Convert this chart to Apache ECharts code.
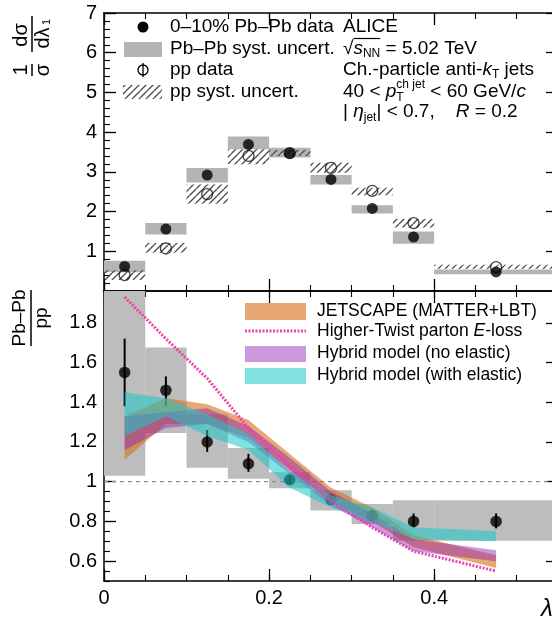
<!DOCTYPE html>
<html><head><meta charset="utf-8">
<script src="https://cdn.jsdelivr.net/npm/echarts@6.0.0/dist/echarts.min.js"></script>
<style>html,body{margin:0;padding:0;background:#fff;}#chart{width:552px;height:623px;}</style>
</head><body><div id="chart"></div>
<script>
// ---------------- data ----------------
const binLo     = [0.00, 0.05, 0.10, 0.15, 0.20, 0.25, 0.30, 0.35, 0.40];
const binHi     = [0.05, 0.10, 0.15, 0.20, 0.25, 0.30, 0.35, 0.40, 0.55];
const binCenter = [0.025, 0.075, 0.125, 0.175, 0.225, 0.275, 0.325, 0.375, 0.475];

// top panel: 1/sigma dsigma/dlambda
const pbpbVal    = [0.62, 1.56, 2.92, 3.69, 3.47, 2.81, 2.08, 1.36, 0.48];
const pbpbSystLo = [0.47, 1.42, 2.73, 3.57, 3.36, 2.68, 1.95, 1.19, 0.42];
const pbpbSystHi = [0.76, 1.71, 3.10, 3.89, 3.61, 2.92, 2.16, 1.50, 0.54];
const ppVal      = [0.40, 1.07, 2.44, 3.40, 3.47, 3.10, 2.52, 1.71, 0.60];
const ppSystLo   = [0.28, 0.96, 2.20, 3.19, 3.40, 2.98, 2.41, 1.60, 0.56];
const ppSystHi   = [0.52, 1.21, 2.68, 3.57, 3.55, 3.23, 2.60, 1.81, 0.66];

// bottom panel: Pb-Pb / pp
const ratioVal    = [1.55, 1.46, 1.20, 1.09, 1.01, 0.91, 0.83, 0.80, 0.80];
const ratioStatLo = [1.38, 1.38, 1.15, 1.05, 0.99, 0.89, 0.815, 0.77, 0.765];
const ratioStatHi = [1.72, 1.53, 1.26, 1.14, 1.03, 0.925, 0.855, 0.84, 0.84];
const ratioSystLo = [1.03, 1.245, 1.07, 1.015, 0.967, 0.855, 0.787, 0.703, 0.703];
const ratioSystHi = [2.10, 1.675, 1.34, 1.17, 1.048, 0.957, 0.888, 0.906, 0.906];

// model bands (at bin centres)
const jetscapeLo = [1.11, 1.29, 1.29, 1.22, 1.06, 0.90, 0.80, 0.67, 0.565];
const jetscapeHi = [1.33, 1.42, 1.39, 1.31, 1.14, 0.97, 0.87, 0.73, 0.63];
const hybridNoElLo = [1.16, 1.27, 1.29, 1.20, 1.04, 0.88, 0.77, 0.65, 0.60];
const hybridNoElHi = [1.33, 1.35, 1.37, 1.28, 1.12, 0.95, 0.84, 0.71, 0.655];
const hybridElLo = [1.23, 1.33, 1.23, 1.16, 0.97, 0.87, 0.80, 0.71, 0.70];
const hybridElHi = [1.45, 1.42, 1.34, 1.24, 1.05, 0.93, 0.87, 0.77, 0.75];
const higherTwist = [1.93, 1.72, 1.52, 1.27, 1.08, 0.90, 0.77, 0.65, 0.55];

// ticks
const xTickLabels = [0, 0.2, 0.4];
const topYTickLabels = [1, 2, 3, 4, 5, 6, 7];
const ratioYTickLabels = [0.6, 0.8, 1.0, 1.2, 1.4, 1.6, 1.8];
const unityLine = [[0, 1], [0.55, 1]];

// ---------------- styles ----------------
const FF = '"Liberation Sans", Arial, Helvetica, sans-serif';
const C_ORANGE = 'rgba(215,110,25,0.6)';
const C_PURPLE = 'rgba(140,30,180,0.45)';
const C_CYAN = 'rgba(25,200,200,0.55)';
const C_HT = '#f040b0';
const GRAY_TOP = '#b4b4b4';
const GRAY_BOT = '#bdbdbd';

function hatchCanvas() {
  const s = 7, c = document.createElement('canvas');
  c.width = s; c.height = s;
  const g = c.getContext('2d');
  g.strokeStyle = '#4a4a4a'; g.lineWidth = 1.3;
  g.beginPath();
  for (let k = -1; k <= 1; k++) { g.moveTo(k * s, s); g.lineTo(k * s + s, 0); }
  g.stroke();
  return c;
}
const hatchFill = { type: 'pattern', image: hatchCanvas(), repeat: 'repeat' };

const fmt = v => String(Math.round(v * 10) / 10);

function xAxes(gridIndex, showLabels) {
  const base = { type: 'value', gridIndex, min: 0, max: 0.55, splitLine: { show: false } };
  const line = { show: true, onZero: false, lineStyle: { color: '#000', width: 1.5 } };
  const noLine = { show: false, onZero: false };
  const maj = { show: true, inside: true, length: 12, customValues: xTickLabels, lineStyle: { color: '#000', width: 1.3 } };
  const min = { show: true, inside: true, length: 6, lineStyle: { color: '#000', width: 1.1 } };
  return [
    Object.assign({}, base, { position: 'bottom', axisLine: line, axisTick: maj,
      axisLabel: { show: showLabels, customValues: xTickLabels, formatter: fmt, fontSize: 20, fontFamily: FF, color: '#000', margin: 7 } }),
    Object.assign({}, base, { position: 'bottom', interval: 0.05, axisLine: noLine, axisTick: min, axisLabel: { show: false } }),
    Object.assign({}, base, { position: 'top', axisLine: line, axisTick: maj, axisLabel: { show: false } }),
    Object.assign({}, base, { position: 'top', interval: 0.05, axisLine: noLine, axisTick: min, axisLabel: { show: false } })
  ];
}
function yAxes(gridIndex, ymin, ymax, majorVals, minorInterval) {
  const base = { type: 'value', gridIndex, min: ymin, max: ymax, splitLine: { show: false } };
  const line = { show: true, onZero: false, lineStyle: { color: '#000', width: 1.5 } };
  const noLine = { show: false, onZero: false };
  const maj = { show: true, inside: true, length: 12, customValues: majorVals, lineStyle: { color: '#000', width: 1.3 } };
  const min = { show: true, inside: true, length: 6, lineStyle: { color: '#000', width: 1.1 } };
  return [
    Object.assign({}, base, { position: 'left', axisLine: line, axisTick: maj,
      axisLabel: { show: true, customValues: majorVals, formatter: fmt, fontSize: 20, fontFamily: FF, color: '#000', margin: 7 } }),
    Object.assign({}, base, { position: 'left', interval: minorInterval, axisLine: noLine, axisTick: min, axisLabel: { show: false } }),
    Object.assign({}, base, { position: 'right', axisLine: line, axisTick: maj, axisLabel: { show: false } }),
    Object.assign({}, base, { position: 'right', interval: minorInterval, axisLine: noLine, axisTick: min, axisLabel: { show: false } })
  ];
}

function boxSeries(xi, yi, lo, hi, fill, z) {
  return {
    type: 'custom', xAxisIndex: xi, yAxisIndex: yi, clip: true, z, silent: true,
    data: binLo.map((l, i) => [l, binHi[i], lo[i], hi[i]]),
    renderItem(params, api) {
      const a = api.coord([api.value(0), api.value(3)]);
      const b = api.coord([api.value(1), api.value(2)]);
      return { type: 'rect', shape: { x: a[0], y: a[1], width: b[0] - a[0], height: b[1] - a[1] }, style: { fill: fill } };
    }
  };
}
function bandSeries(lo, hi, color, z) {
  const data = binCenter.map((x, i) => [x, lo[i], hi[i]]);
  return {
    type: 'custom', xAxisIndex: 4, yAxisIndex: 4, clip: true, z, silent: true, data,
    renderItem(params, api) {
      if (params.dataIndex !== 0) return null;
      const up = data.map(d => api.coord([d[0], d[2]]));
      const dn = data.map(d => api.coord([d[0], d[1]])).reverse();
      return { type: 'polygon', shape: { points: up.concat(dn) }, style: { fill: color } };
    }
  };
}

// ---------------- text helpers ----------------
const mctx = document.createElement('canvas').getContext('2d');
function fnt(fs, it) { return (it ? 'italic ' : '') + fs + 'px ' + FF; }
function run(x, y, segs, fsMain) {
  const els = []; const xs = []; let cx = x;
  for (const s of segs) {
    const fs = s.fs || fsMain; const f = fnt(fs, s.it);
    mctx.font = f; const w = mctx.measureText(s.t).width;
    xs.push(cx);
    els.push({ type: 'text', x: cx, y: y + (s.dy || 0), silent: true,
      style: { text: s.t, font: f, fill: '#000', textAlign: 'left', textVerticalAlign: 'middle' } });
    if (!s.hold) cx += w;
  }
  xs.push(cx);
  return { els, xs };
}
const FS_T = 19, FS_B = 17.5;
const g = [];
// top-left legend
g.push({ type: 'circle', shape: { cx: 143, cy: 27, r: 5.5 }, style: { fill: '#000' }, silent: true });
g.push({ type: 'rect', shape: { x: 124, y: 42, width: 38, height: 15 }, style: { fill: GRAY_TOP }, silent: true });
g.push({ type: 'circle', shape: { cx: 143, cy: 70, r: 5 }, style: { fill: 'none', stroke: '#000', lineWidth: 1.3 }, silent: true });
g.push({ type: 'line', shape: { x1: 143, y1: 63, x2: 143, y2: 77 }, style: { stroke: '#000', lineWidth: 1.3 }, silent: true });
g.push({ type: 'rect', shape: { x: 123, y: 85, width: 39, height: 14 }, style: { fill: hatchFill }, silent: true });
g.push(...run(170, 27, [{ t: '0–10% Pb–Pb data' }], FS_T).els);
g.push(...run(170, 49, [{ t: 'Pb–Pb syst. uncert.' }], FS_T).els);
g.push(...run(170, 70, [{ t: 'pp data' }], FS_T).els);
g.push(...run(170, 92, [{ t: 'pp syst. uncert.' }], FS_T).els);
// right text block
g.push(...run(343, 27, [{ t: 'ALICE' }], FS_T).els);
const r2 = run(343, 49, [{ t: '√' }, { t: 's', it: true }, { t: 'NN', fs: 12, dy: 5 }, { t: ' = 5.02 TeV' }], FS_T);
g.push(...r2.els);
g.push({ type: 'line', shape: { x1: r2.xs[1], y1: 38.5, x2: r2.xs[3], y2: 38.5 }, style: { stroke: '#000', lineWidth: 1.2 }, silent: true });
g.push(...run(343, 70, [{ t: 'Ch.-particle anti-' }, { t: 'k', it: true }, { t: 'T', fs: 12, dy: 5 }, { t: ' jets' }], FS_T).els);
g.push(...run(343, 92, [{ t: '40 < ' }, { t: 'p', it: true }, { t: 'T', fs: 12, dy: 6, hold: true }, { t: 'ch jet', fs: 12, dy: -7 }, { t: ' < 60 GeV/' }, { t: 'c', it: true }], FS_T).els);
g.push(...run(343, 112, [{ t: '| ' }, { t: 'η', it: true }, { t: 'jet', fs: 12, dy: 6 }, { t: '| < 0.7,    ' }, { t: 'R', it: true }, { t: ' = 0.2' }], FS_T).els);

// bottom legend
g.push({ type: 'rect', shape: { x: 245, y: 303, width: 61, height: 17 }, style: { fill: C_ORANGE }, silent: true });
g.push({ type: 'line', shape: { x1: 245, y1: 331, x2: 306, y2: 331 }, style: { stroke: C_HT, lineWidth: 3, lineDash: [2, 1.5] }, silent: true });
g.push({ type: 'rect', shape: { x: 245, y: 346, width: 61, height: 16 }, style: { fill: C_PURPLE }, silent: true });
g.push({ type: 'rect', shape: { x: 245, y: 368, width: 61, height: 16 }, style: { fill: C_CYAN }, silent: true });
g.push(...run(317, 311, [{ t: 'JETSCAPE (MATTER+LBT)' }], FS_B).els);
g.push(...run(317, 331, [{ t: 'Higher-Twist parton ' }, { t: 'E', it: true }, { t: '-loss' }], FS_B).els);
g.push(...run(317, 353, [{ t: 'Hybrid model (no elastic)' }], FS_B).els);
g.push(...run(317, 375, [{ t: 'Hybrid model (with elastic)' }], FS_B).els);

// x axis title
g.push({ type: 'text', x: 541, y: 609, silent: true, style: { text: 'λ', font: fnt(24, true), fill: '#000', textAlign: 'left', textVerticalAlign: 'middle' } });
g.push({ type: 'text', x: 556, y: 615, silent: true, style: { text: '1', font: fnt(13, false), fill: '#000', textAlign: 'left', textVerticalAlign: 'middle' } });

// y titles (rotated fractions)
function ctext(x, y, t, fs, it) {
  return { type: 'text', x, y, silent: true, style: { text: t, font: fnt(fs, it), fill: '#000', textAlign: 'center', textVerticalAlign: 'middle' } };
}
g.push({ type: 'group', x: 32, y: 45, rotation: Math.PI / 2, silent: true, children: [
  ctext(-25, -11, '1', 20), { type: 'line', shape: { x1: -31, y1: 0, x2: -19, y2: 0 }, style: { stroke: '#000', lineWidth: 1.5 } },
  ctext(-25, 11, 'σ', 20),
  ctext(10, -11, 'dσ', 20), { type: 'line', shape: { x1: -7, y1: 0, x2: 29, y2: 0 }, style: { stroke: '#000', lineWidth: 1.5 } },
  ctext(7, 11, 'dλ', 20), ctext(23, 15, '1', 11)
] });
g.push({ type: 'group', x: 31, y: 318, rotation: Math.PI / 2, silent: true, children: [
  ctext(0, -11, 'Pb–Pb', 19), { type: 'line', shape: { x1: -28, y1: 0, x2: 28, y2: 0 }, style: { stroke: '#000', lineWidth: 1.5 } },
  ctext(0, 11, 'pp', 19)
] });

// ---------------- chart ----------------
const chart = echarts.init(document.getElementById('chart'), null, { renderer: 'canvas' });
const option = {
  animation: false,
  backgroundColor: '#fff',
  grid: [
    { left: 104, top: 13, width: 454, height: 278, outerBoundsMode: 'none', containLabel: false },
    { left: 104, top: 291, width: 454, height: 290, outerBoundsMode: 'none', containLabel: false }
  ],
  xAxis: xAxes(0, false).concat(xAxes(1, true)),
  yAxis: yAxes(0, 0, 7, topYTickLabels, 0.2).concat(yAxes(1, 0.5, 1.96, ratioYTickLabels, 0.05)),
  series: [
    // top panel
    boxSeries(0, 0, pbpbSystLo, pbpbSystHi, GRAY_TOP, 1),
    boxSeries(0, 0, ppSystLo, ppSystHi, hatchFill, 2),
    { type: 'scatter', xAxisIndex: 0, yAxisIndex: 0, z: 3, silent: true, symbol: 'circle', symbolSize: 11,
      itemStyle: { color: 'rgba(255,255,255,0)', borderColor: '#111', borderWidth: 1.3 },
      data: binCenter.map((x, i) => [x, ppVal[i]]) },
    { type: 'scatter', xAxisIndex: 0, yAxisIndex: 0, z: 4, silent: true, symbol: 'circle', symbolSize: 11,
      itemStyle: { color: '#000' }, data: binCenter.map((x, i) => [x, pbpbVal[i]]) },
    // bottom panel
    boxSeries(4, 4, ratioSystLo, ratioSystHi, GRAY_BOT, 1),
    { type: 'line', xAxisIndex: 4, yAxisIndex: 4, z: 2, silent: true, symbol: 'none', data: unityLine,
      lineStyle: { color: '#8a8a8a', width: 1.2, type: [4, 4] } },
    { type: 'custom', xAxisIndex: 4, yAxisIndex: 4, z: 3, silent: true, clip: true,
      data: binCenter.map((x, i) => [x, ratioStatLo[i], ratioStatHi[i]]),
      renderItem(params, api) {
        const a = api.coord([api.value(0), api.value(1)]);
        const b = api.coord([api.value(0), api.value(2)]);
        return { type: 'line', shape: { x1: a[0], y1: a[1], x2: b[0], y2: b[1] }, style: { stroke: '#000', lineWidth: 2 } };
      } },
    { type: 'scatter', xAxisIndex: 4, yAxisIndex: 4, z: 4, silent: true, symbol: 'circle', symbolSize: 11.5,
      itemStyle: { color: '#000' }, data: binCenter.map((x, i) => [x, ratioVal[i]]) },
    bandSeries(jetscapeLo, jetscapeHi, C_ORANGE, 5),
    bandSeries(hybridNoElLo, hybridNoElHi, C_PURPLE, 6),
    bandSeries(hybridElLo, hybridElHi, C_CYAN, 7),
    { type: 'line', xAxisIndex: 4, yAxisIndex: 4, z: 8, silent: true, symbol: 'none', clip: true,
      data: binCenter.map((x, i) => [x, higherTwist[i]]),
      lineStyle: { color: C_HT, width: 3, type: [2, 1.5] } }
  ],
  graphic: { elements: g }
};
chart.setOption(option);
</script>
</body></html>
